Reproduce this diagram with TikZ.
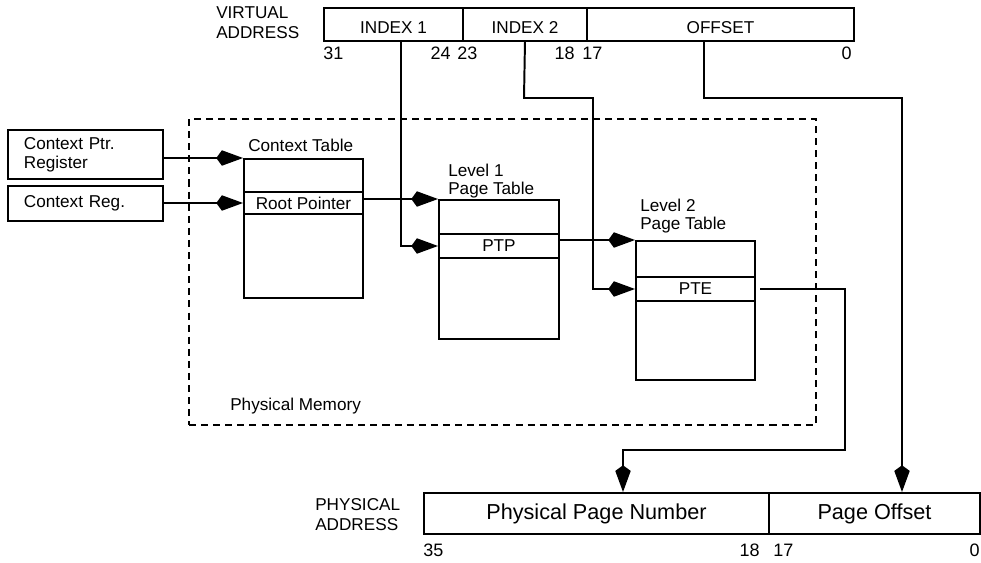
\documentclass[tikz,border=0pt]{standalone}
\usepackage{fontspec}
\setmainfont{Liberation Sans}
\usepackage{tikz}
\usetikzlibrary{arrows.meta}
\tikzset{
  txt/.style={inner sep=0pt,font=\fontsize{12.2}{13.4}\selectfont},
  bits/.style={inner sep=0pt,font=\fontsize{12.8}{14}\selectfont},
  head/.style={inner sep=0pt,align=left,font=\fontsize{12.2}{14.2}\selectfont},
  big/.style={inner sep=0pt,font=\fontsize{15.4}{17}\selectfont},
  field/.style 2 args={draw,line width=1.4pt,inner sep=0pt,anchor=north west,
    minimum width=#1*0.025cm,minimum height=#2*0.025cm},
  ptr/.style={line width=1.4pt,-{Kite[length=19pt,width=11pt,inset=4pt]}},
}
\begin{document}
\begin{tikzpicture}[x=0.025cm,y=-0.025cm]
\useasboundingbox (0,0) rectangle (981,562);
% virtual address
\node[head,anchor=west] (vlbl) at (216,23) {VIRTUAL\\ADDRESS};
\node[field={139}{33},txt,text height=12.5pt,text depth=0pt] (idx1) at (323,7) {INDEX 1};
\node[field={124}{33},txt,text height=12.5pt,text depth=0pt] (idx2) at (462,7) {INDEX 2};
\node[field={267}{33},txt,text height=12.5pt,text depth=0pt] (off) at (586,7) {OFFSET};
\node[bits,anchor=west] (v31) at (323,53) {31}; \node[bits,anchor=east] (v24) at (451,53) {24};
\node[bits,anchor=west] (v23) at (457,53) {23}; \node[bits,anchor=east] (v18) at (575,53) {18};
\node[bits,anchor=west] (v17) at (582,53) {17}; \node[bits,anchor=east] (v0) at (852,53) {0};
% physical memory
\node[field={627}{306},dash pattern=on 5pt off 3.6pt] (pmem) at (188,118) {};
\node[txt,anchor=west] (pmlbl) at (230,406) {Physical Memory};
\node[field={155}{49},txt,align=left,text width=3.075cm] (cpr) at (7,129) {Context Ptr.\\Register};
\node[field={155}{35},txt,align=left,text width=3.075cm] (creg) at (7,185) {Context Reg.};
\node[field={119}{139}] (ctab) at (243,158) {};
\node[field={119}{22},txt] (rp) at (243,191) {Root Pointer};
\node[txt,anchor=base west] (ctlbl) at (248,151) {Context Table};
\node[field={120}{139}] (lvl1) at (438,199) {};
\node[field={120}{24},txt] (ptp) at (438,233) {PTP};
\node[txt,anchor=west,align=left] (l1lbl) at (448,181) {Level 1\\Page Table};
\node[field={119}{139}] (lvl2) at (635,240) {};
\node[field={119}{24},txt] (pte) at (635,276) {PTE};
\node[txt,anchor=west,align=left] (l2lbl) at (640,216) {Level 2\\Page Table};
% physical address
\node[head,anchor=west] (plbl) at (315,515) {PHYSICAL\\ADDRESS};
\node[field={345}{41},big] (ppn) at (423,492) {Physical Page Number};
\node[field={211}{41},big] (pof) at (768,492) {Page Offset};
\node[bits,anchor=west] (p35) at (423,550) {35}; \node[bits,anchor=east] (p18) at (760,550) {18};
\node[bits,anchor=west] (p17) at (773,550) {17}; \node[bits,anchor=east] (p0) at (980,550) {0};
% connectors
\coordinate (i1) at (401,0);
\coordinate (i2) at (524,98); \coordinate (j2) at (593,98);
\coordinate (o1) at (704,98); \coordinate (o2) at (902,98);
\coordinate (q1) at (845,450); \coordinate (q2) at (623,450);
\draw[ptr] (cpr.east |- ctab.north) -- (ctab.north west);
\draw[ptr] (creg.east |- rp.west) -- (rp.west);
\draw[ptr] (rp.east |- lvl1.north) -- (lvl1.north west);
\draw[ptr] (ptp.east |- lvl2.north) -- (lvl2.north west);
\draw[ptr] (idx1.south -| i1) |- (ptp.west);
\draw[ptr] (idx2.south) -- (i2) -- (j2) |- (pte.west);
\draw[ptr] (off.south -| o1) -- (o1) -- (o2) -- (o2 |- pof.north);
\draw[ptr] ([xshift=3pt]pte.east) -| (q1) -- (q2) -- (q2 |- ppn.north);
\end{tikzpicture}
\end{document}
